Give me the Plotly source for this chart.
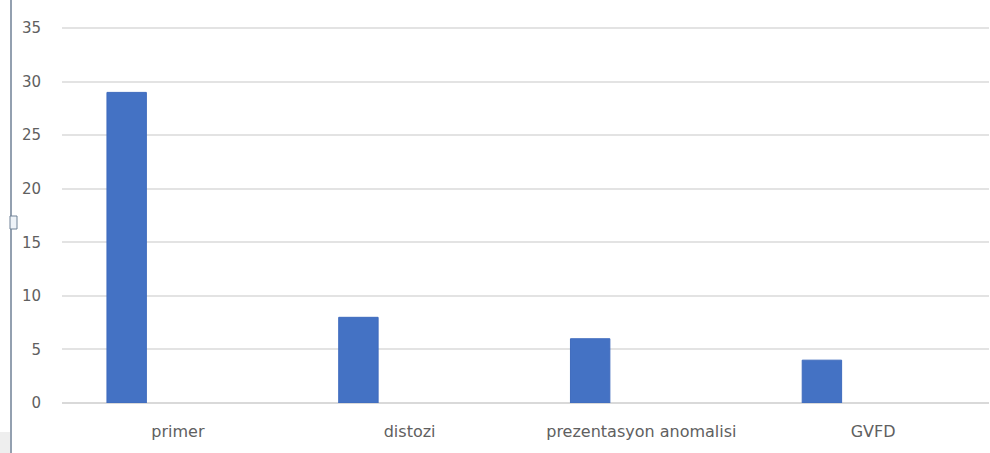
import plotly.graph_objects as go

categories = ["primer", "distozi", "prezentasyon anomalisi", "GVFD"]
values = [29, 8, 6, 4]
y_ticks = [0, 5, 10, 15, 20, 25, 30, 35]

fig = go.Figure()
fig.add_trace(go.Bar(
    x=categories, y=values,
    width=0.17, offset=-0.306,
    marker=dict(color="#4472c4", line=dict(color="#3f6bbd", width=1)),
    showlegend=False,
))

fig.update_layout(
    width=990, height=453,
    margin=dict(l=62, r=1, t=26, b=50),
    paper_bgcolor="white", plot_bgcolor="white",
    font=dict(family="DejaVu Sans, sans-serif", color="#595959", size=15),
    xaxis=dict(
        type="category", showgrid=False, showline=False, zeroline=False,
        ticks="outside", ticklen=14, tickcolor="rgba(0,0,0,0)",
        tickfont=dict(size=16, color="#606060"),
    ),
    yaxis=dict(
        range=[0, 35.2], tickvals=y_ticks,
        showgrid=True, gridcolor="#e3e3e3", gridwidth=1.5,
        zeroline=True, zerolinecolor="#d9d9d9", zerolinewidth=1.5,
        showline=False,
        ticks="outside", ticklen=17, tickcolor="rgba(0,0,0,0)",
        tickfont=dict(size=15, color="#606060"),
    ),
    shapes=[
        dict(type="line", xref="paper", yref="paper",
             x0=-51 / 927, x1=-51 / 927, y0=-50 / 377, y1=1 + 26 / 377,
             line=dict(color="#6f8196", width=1.5)),
        dict(type="rect", xref="paper", yref="paper",
             x0=-52 / 927, x1=-45 / 927, y0=(403 - 229) / 377, y1=(403 - 216) / 377,
             line=dict(color="#6f8196", width=1), fillcolor="#eef3f8"),
        dict(type="rect", xref="paper", yref="paper",
             x0=-62 / 927, x1=-52 / 927, y0=-50 / 377, y1=(403 - 432) / 377,
             line=dict(width=0), fillcolor="#eeeeee"),
    ],
)

fig.write_html("out.html")
